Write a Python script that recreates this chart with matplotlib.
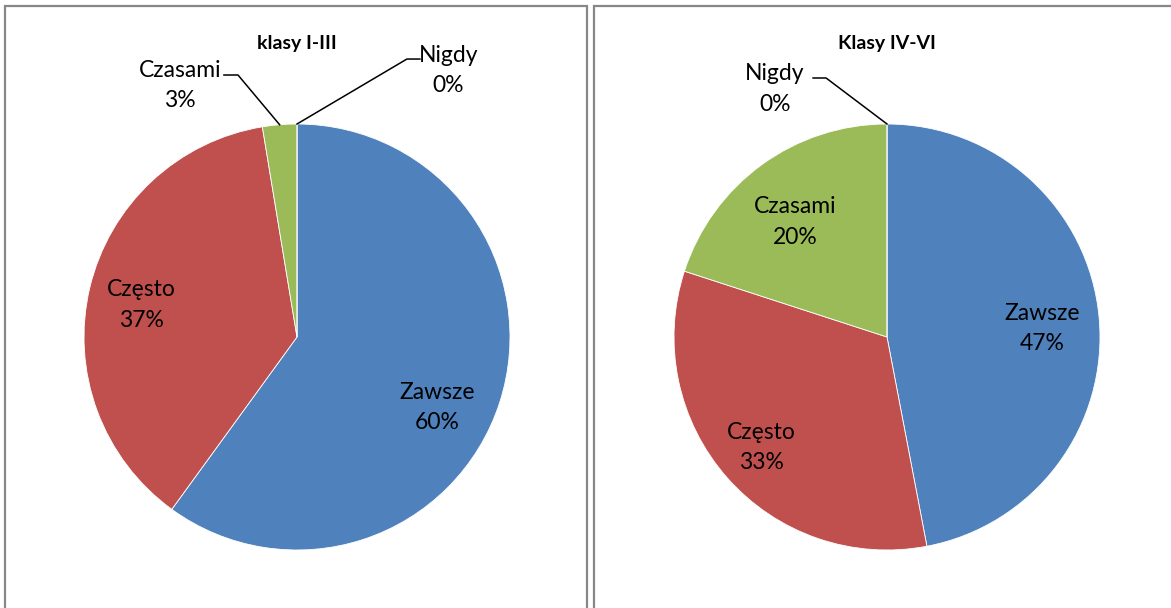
import numpy as np
import matplotlib.pyplot as plt
from matplotlib.patches import Rectangle

plt.rcParams['font.family'] = ['Lato', 'DejaVu Sans']

# data
categories = ['Zawsze', 'Często', 'Czasami', 'Nigdy']
klasy_1_3 = [60, 37.4, 2.6, 0]
klasy_4_6 = [47, 33, 20, 0]
titles = ['klasy I-III', 'Klasy IV-VI']
colors = ['#4F81BD', '#C0504D', '#9BBB59', '#8064A2']

W, H = 1171, 608
fig = plt.figure(figsize=(W / 100, H / 100), dpi=100)
ax = fig.add_axes([0, 0, 1, 1])
ax.set_xlim(0, W)
ax.set_ylim(0, H)
ax.set_aspect('equal')
ax.axis('off')

# layout (pixels), label offsets in units of the pie radius
R = 213
centers = [(297, H - 337), (887, H - 337)]
boxes = [(5, 587), (594, 1185)]
inside_pos = [
    {0: (0.66, -0.33), 1: (-0.73, 0.15)},
    {0: (0.73, 0.04), 1: (-0.59, -0.52), 2: (-0.43, 0.54)},
]
# outside labels: text centre, elbow start, elbow end
outside_pos = [
    {2: ((-0.55, 1.18), (-0.343, 1.23), (-0.277, 1.23)),
     3: ((0.71, 1.25), (0.577, 1.305), (0.516, 1.305))},
    {3: ((-0.526, 1.164), (-0.347, 1.216), (-0.286, 1.216))},
]

for k, values in enumerate([klasy_1_3, klasy_4_6]):
    cx, cy = centers[k]
    x0, x1 = boxes[k]
    ax.add_patch(Rectangle((x0, -10), x1 - x0, H - 6 + 10, fill=False,
                           edgecolor='#878787', linewidth=1.6))
    wedges, _ = ax.pie(values, colors=colors, startangle=90, counterclock=False,
                       center=(cx, cy), radius=R, frame=True,
                       wedgeprops=dict(edgecolor='white', linewidth=0.6))
    ax.text(cx, H - 44, titles[k], ha='center', va='center',
            fontsize=14, fontweight='bold')
    total = sum(values)
    for i, v in enumerate(values):
        label = f'{categories[i]}\n{round(100 * v / total):.0f}%'
        if i in inside_pos[k]:
            dx, dy = inside_pos[k][i]
            ax.text(cx + dx * R, cy + dy * R, label, ha='center', va='center',
                    fontsize=16.5, linespacing=1.55)
        else:
            (tx, ty), (ex0, ey), (ex1, _) = outside_pos[k][i]
            ax.text(cx + tx * R, cy + ty * R, label, ha='center', va='center',
                    fontsize=16.5, linespacing=1.55)
            w = wedges[i]
            mid = np.deg2rad((w.theta1 + w.theta2) / 2)
            px = [cx + ex0 * R, cx + ex1 * R, cx + R * np.cos(mid)]
            py = [cy + ey * R, cy + ey * R, cy + R * np.sin(mid)]
            ax.plot(px, py, color='black', linewidth=1.1)

ax.set_xlim(0, W)
ax.set_ylim(0, H)
ax.axis('off')
fig.savefig('out.png', dpi=100)
